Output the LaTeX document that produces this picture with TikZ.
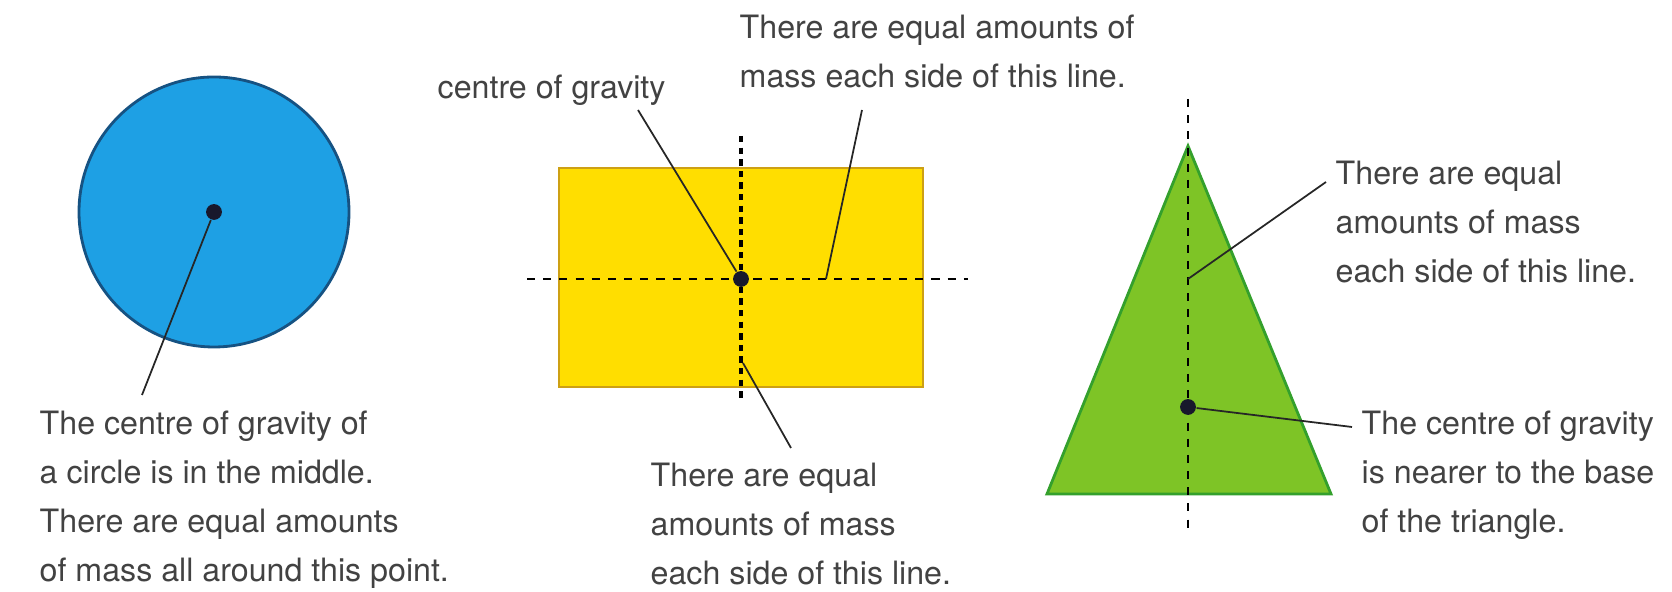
\documentclass[tikz,border=0pt]{standalone}
\usepackage{fontspec}
\setmainfont{TeX Gyre Heros}
\usetikzlibrary{positioning,calc}

\definecolor{discblue}{RGB}{30,160,228}
\definecolor{discedge}{RGB}{22,82,130}
\definecolor{slabyellow}{RGB}{255,222,0}
\definecolor{slabedge}{RGB}{205,160,20}
\definecolor{trigreen}{RGB}{126,196,38}
\definecolor{triedge}{RGB}{52,160,44}
\definecolor{notegray}{RGB}{66,66,66}
\definecolor{dotnavy}{RGB}{24,24,44}

\tikzset{
    note/.style={align=left, anchor=north west, inner sep=0pt, text=notegray,
        font=\fontsize{9.15pt}{14pt}\selectfont},
    cgdot/.style={circle, fill=dotnavy, inner sep=0pt, minimum size=4.5pt},
    leader/.style={line width=0.5pt, black!85},
    axisline/.style={line width=0.45pt, dash pattern=on 2.3pt off 2.3pt},
    thickaxis/.style={line width=0.9pt, dash pattern=on 1.8pt off 1.5pt},
}

\begin{document}
\begin{tikzpicture}[x=0.01cm, y=-0.01cm]
    \useasboundingbox (0,0) rectangle (1672,592);

    % Circle
    \draw[fill=discblue, draw=discedge, line width=0.8pt] (214,212) circle [radius=135];
    \node[cgdot] (cdot) at (214,212) {};
    \node[note] (ctext) at (39,410) {The centre of gravity of\\a circle is in the middle.\\There are equal amounts\\of mass all around this point.};
    \coordinate (cend) at (142,395);
    \draw[leader] (cdot) -- (cend);

    % Rectangle
    \draw[fill=slabyellow, draw=slabedge, line width=0.8pt] (559,168) rectangle (923,387);
    \coordinate (hl) at (527,279);
    \coordinate (hr) at (968,279);
    \coordinate (vt) at (741,136);
    \coordinate (vb) at (741,402);
    \draw[axisline] (hl) -- (hr);
    \draw[thickaxis] (vt) -- (vb);
    \node[cgdot] (rdot) at (741,279) {};
    \node[note] (rtop) at (739,14) {There are equal amounts of\\mass each side of this line.};
    \node[note] (rcg) at (437,74) {centre of gravity};
    \node[note] (rbot) at (650,462) {There are equal\\amounts of mass\\each side of this line.};
    \coordinate (rcgend) at (638,110);
    \coordinate (rtopend) at (862,110);
    \coordinate (rtopfoot) at (826,279);
    \coordinate (rbotend) at (791,448);
    \coordinate (rbotfoot) at (743,363);
    \draw[leader] (rdot) -- (rcgend);
    \draw[leader] (rtopfoot) -- (rtopend);
    \draw[leader] (rbotfoot) -- (rbotend);

    % Triangle
    \draw[fill=trigreen, draw=triedge, line width=0.8pt] (1188,146) -- (1331,494) -- (1047,494) -- cycle;
    \coordinate (tt) at (1188,99);
    \coordinate (tb) at (1188,530);
    \draw[axisline] (tt) -- (tb);
    \node[cgdot] (tdot) at (1188,407) {};
    \node[note] (ttop) at (1335,160) {There are equal\\amounts of mass\\each side of this line.};
    \node[note] (tbot) at (1361,410) {The centre of gravity\\is nearer to the base\\of the triangle.};
    \coordinate (ttopend) at (1326,182);
    \coordinate (ttopfoot) at (1188,279);
    \coordinate (tbotend) at (1352,427);
    \draw[leader] (ttopfoot) -- (ttopend);
    \draw[leader] (tdot) -- (tbotend);
\end{tikzpicture}
\end{document}
